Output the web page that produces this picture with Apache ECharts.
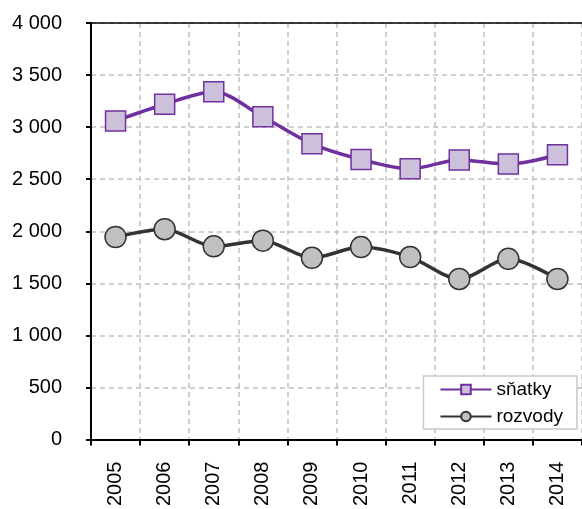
<!DOCTYPE html>
<html>
<head>
<meta charset="utf-8">
<script src="https://cdn.jsdelivr.net/npm/echarts@6/dist/echarts.min.js"></script>
<style>
html,body{margin:0;padding:0;background:#fff;}
#chart{width:582px;height:509px;}
</style>
</head>
<body>
<div id="chart"></div>
<script>
var years = ['2005','2006','2007','2008','2009','2010','2011','2012','2013','2014'];
var snatky = [3060, 3220, 3340, 3100, 2840, 2690, 2600, 2685, 2645, 2735];
var rozvody = [1945, 2020, 1855, 1910, 1745, 1848, 1752, 1542, 1735, 1542];
var yTicks = [0, 500, 1000, 1500, 2000, 2500, 3000, 3500, 4000];

function fmt(v){
  var s = String(Math.round(v));
  return s.replace(/\B(?=(\d{3})+(?!\d))/g, ' ');
}

var chart = echarts.init(document.getElementById('chart'), null, {renderer:'canvas'});
var font = 'Liberation Sans, Arial, sans-serif';
chart.setOption({
  animation:false,
  backgroundColor:'#fff',
  grid:{left:91, top:23, right:-2, bottom:69},
  legend:{
    right:5, top:376, orient:'vertical', itemGap:8,
    backgroundColor:'#fff', borderColor:'#c8c8c8', borderWidth:1.5,
    padding:[4,14,3,16],
    itemWidth:51, itemHeight:12,
    textStyle:{fontFamily:font, fontSize:19, color:'#000', padding:[0,0,0,0]},
    lineStyle:{width:2},
    data:['sňatky','rozvody']
  },
  xAxis:[{
    type:'category', data:years, boundaryGap:true,
    axisLine:{lineStyle:{color:'#000', width:2}},
    axisTick:{show:true, alignWithLabel:false, length:6, lineStyle:{color:'#000', width:2}},
    axisLabel:{rotate:90, fontFamily:font, fontSize:20, color:'#000', margin:22, interval:0},
    splitLine:{show:true, interval:0, lineStyle:{color:'#c0c0c0', type:[5,4], width:1.5}}
  },{
    type:'category', data:years, position:'top',
    axisLine:{show:true, lineStyle:{color:'#000', width:1.5}},
    axisTick:{show:false}, axisLabel:{show:false}, splitLine:{show:false}
  }],
  yAxis:{
    type:'value', min:0, max:4000, interval:500,
    axisLine:{show:true, lineStyle:{color:'#000', width:2}},
    axisTick:{show:true, length:5, lineStyle:{color:'#000', width:2}},
    axisLabel:{fontFamily:font, fontSize:20, color:'#000', margin:29, formatter:function(v){return fmt(v);}},
    splitLine:{show:true, lineStyle:{color:'#c0c0c0', type:[5,4], width:1.5}}
  },
  series:[
    {name:'sňatky', type:'line', data:snatky, smooth:0.3,
     symbol:'rect', symbolSize:20, z:3,
     lineStyle:{color:'#7030A0', width:3.5},
     itemStyle:{color:'#CCC0DA', borderColor:'#7030A0', borderWidth:1.5}},
    {name:'rozvody', type:'line', data:rozvody, smooth:0.3,
     symbol:'circle', symbolSize:21, z:2,
     lineStyle:{color:'#333333', width:3.5},
     itemStyle:{color:'#C0C0C0', borderColor:'#333333', borderWidth:1.5}}
  ]
});
</script>
</body>
</html>
